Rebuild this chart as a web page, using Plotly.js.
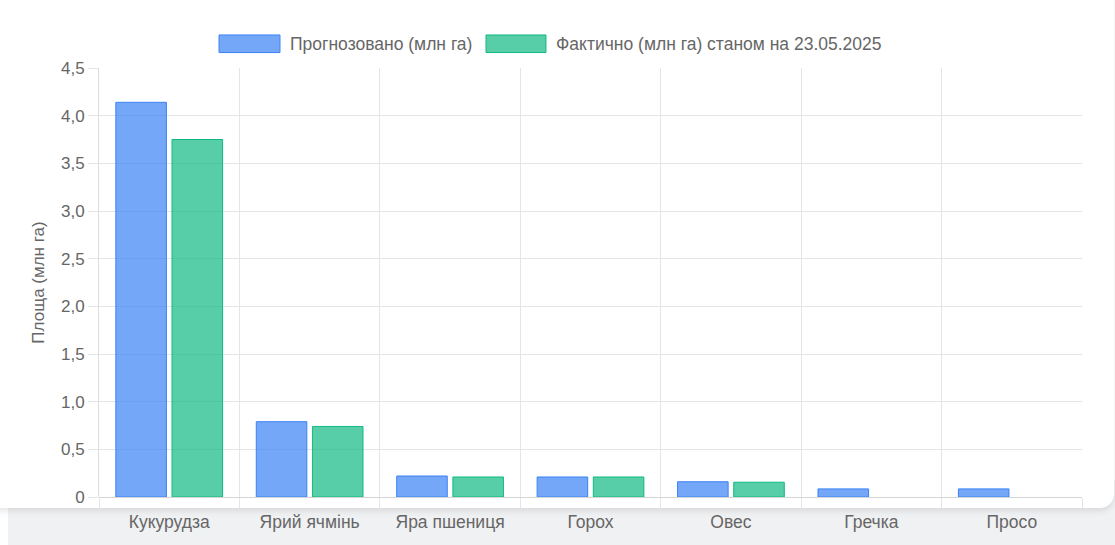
<!DOCTYPE html>
<html>
<head>
<meta charset="utf-8">
<script src="https://cdn.plot.ly/plotly-3.0.1.min.js"></script>
<style>
  html, body { margin:0; padding:0; width:1115px; height:545px; overflow:hidden; background:#ffffff; }
  #grey { position:absolute; left:8px; top:480px; right:0; bottom:0; background:#f0f1f3; }
  #card { position:absolute; left:-20px; top:-20px; width:1134px; height:528px; background:#ffffff;
          border-radius:0 0 14px 0; box-shadow:0 3px 6px rgba(0,0,0,0.10); }
  #chart { position:absolute; left:0; top:0; width:1115px; height:545px; }
</style>
</head>
<body>
<div id="grey"></div>
<div id="card"></div>
<div id="chart"></div>
<script>
const categories = ["Кукурудза", "Ярий ячмінь", "Яра пшениця", "Горох", "Овес", "Гречка", "Просо"];
const forecast = [4.14, 0.79, 0.22, 0.21, 0.16, 0.085, 0.085];
const actual = [3.75, 0.74, 0.21, 0.21, 0.155, null, null];
const seriesNames = ["Прогнозовано (млн га)", "Фактично (млн га) станом на 23.05.2025"];
const yTickVals = [0, 0.5, 1.0, 1.5, 2.0, 2.5, 3.0, 3.5, 4.0, 4.5];
const yTickText = ["0", "0,5", "1,0", "1,5", "2,0", "2,5", "3,0", "3,5", "4,0", "4,5"];
const yTitle = "Площа (млн га)";

const blueFill = "rgba(59,130,246,0.7)", blueLine = "#3b82f6";
const greenFill = "rgba(16,185,129,0.7)", greenLine = "#10b981";
const font = "Liberation Sans, Arial, Helvetica, sans-serif";
const textColor = "#666666";
const gridColor = "#e5e5e5";

const traces = [
  { type:"bar", name:seriesNames[0], x:categories, y:forecast,
    marker:{ color:blueFill, line:{ color:blueLine, width:1 } } },
  { type:"bar", name:seriesNames[1], x:categories, y:actual,
    marker:{ color:greenFill, line:{ color:greenLine, width:1 } } }
];

// custom legend (paper coordinates of the plot area)
const legend = [
  { x0:0.1221, x1:0.1841, tx:0.1923, fill:blueFill, line:blueLine, text:seriesNames[0] },
  { x0:0.3937, x1:0.4547, tx:0.4629, fill:greenFill, line:greenLine, text:seriesNames[1] }
];
const shapes = legend.map(l => ({ type:"rect", xref:"paper", yref:"paper", x0:l.x0, x1:l.x1, y0:1.036, y1:1.077,
  fillcolor:l.fill, line:{ color:l.line, width:1 } }));
const annotations = legend.map(l => ({ xref:"paper", yref:"paper", x:l.tx, y:1.056, xanchor:"left", yanchor:"middle",
  text:l.text, showarrow:false, font:{ family:font, size:17.5, color:textColor } }));

const layout = {
  width:1115, height:545,
  margin:{ l:99, r:33, t:68, b:48 },
  paper_bgcolor:"rgba(0,0,0,0)", plot_bgcolor:"rgba(0,0,0,0)",
  barmode:"group", bargap:0.2, bargroupgap:0.1,
  showlegend:false,
  font:{ family:font, size:17, color:textColor },
  xaxis:{ type:"category", tickson:"boundaries", showgrid:true, gridcolor:gridColor, gridwidth:1,
          ticks:"outside", ticklen:10, tickcolor:gridColor, showline:false, zeroline:false,
          ticklabelstandoff:12,
          tickfont:{ family:font, size:17.5, color:textColor }, fixedrange:true },
  yaxis:{ range:[0, 4.5], tickvals:yTickVals, ticktext:yTickText, showgrid:true, gridcolor:gridColor,
          ticks:"outside", ticklen:10, tickcolor:gridColor, zeroline:true, zerolinecolor:"#d6d6d6", zerolinewidth:1,
          showline:true, linecolor:"#dddddd", linewidth:1,
          tickfont:{ family:font, size:17, color:textColor },
          title:{ text:yTitle, font:{ family:font, size:17, color:textColor }, standoff:12 }, fixedrange:true },
  shapes:shapes, annotations:annotations
};

Plotly.newPlot("chart", traces, layout, { staticPlot:true, displayModeBar:false });
</script>
</body>
</html>
